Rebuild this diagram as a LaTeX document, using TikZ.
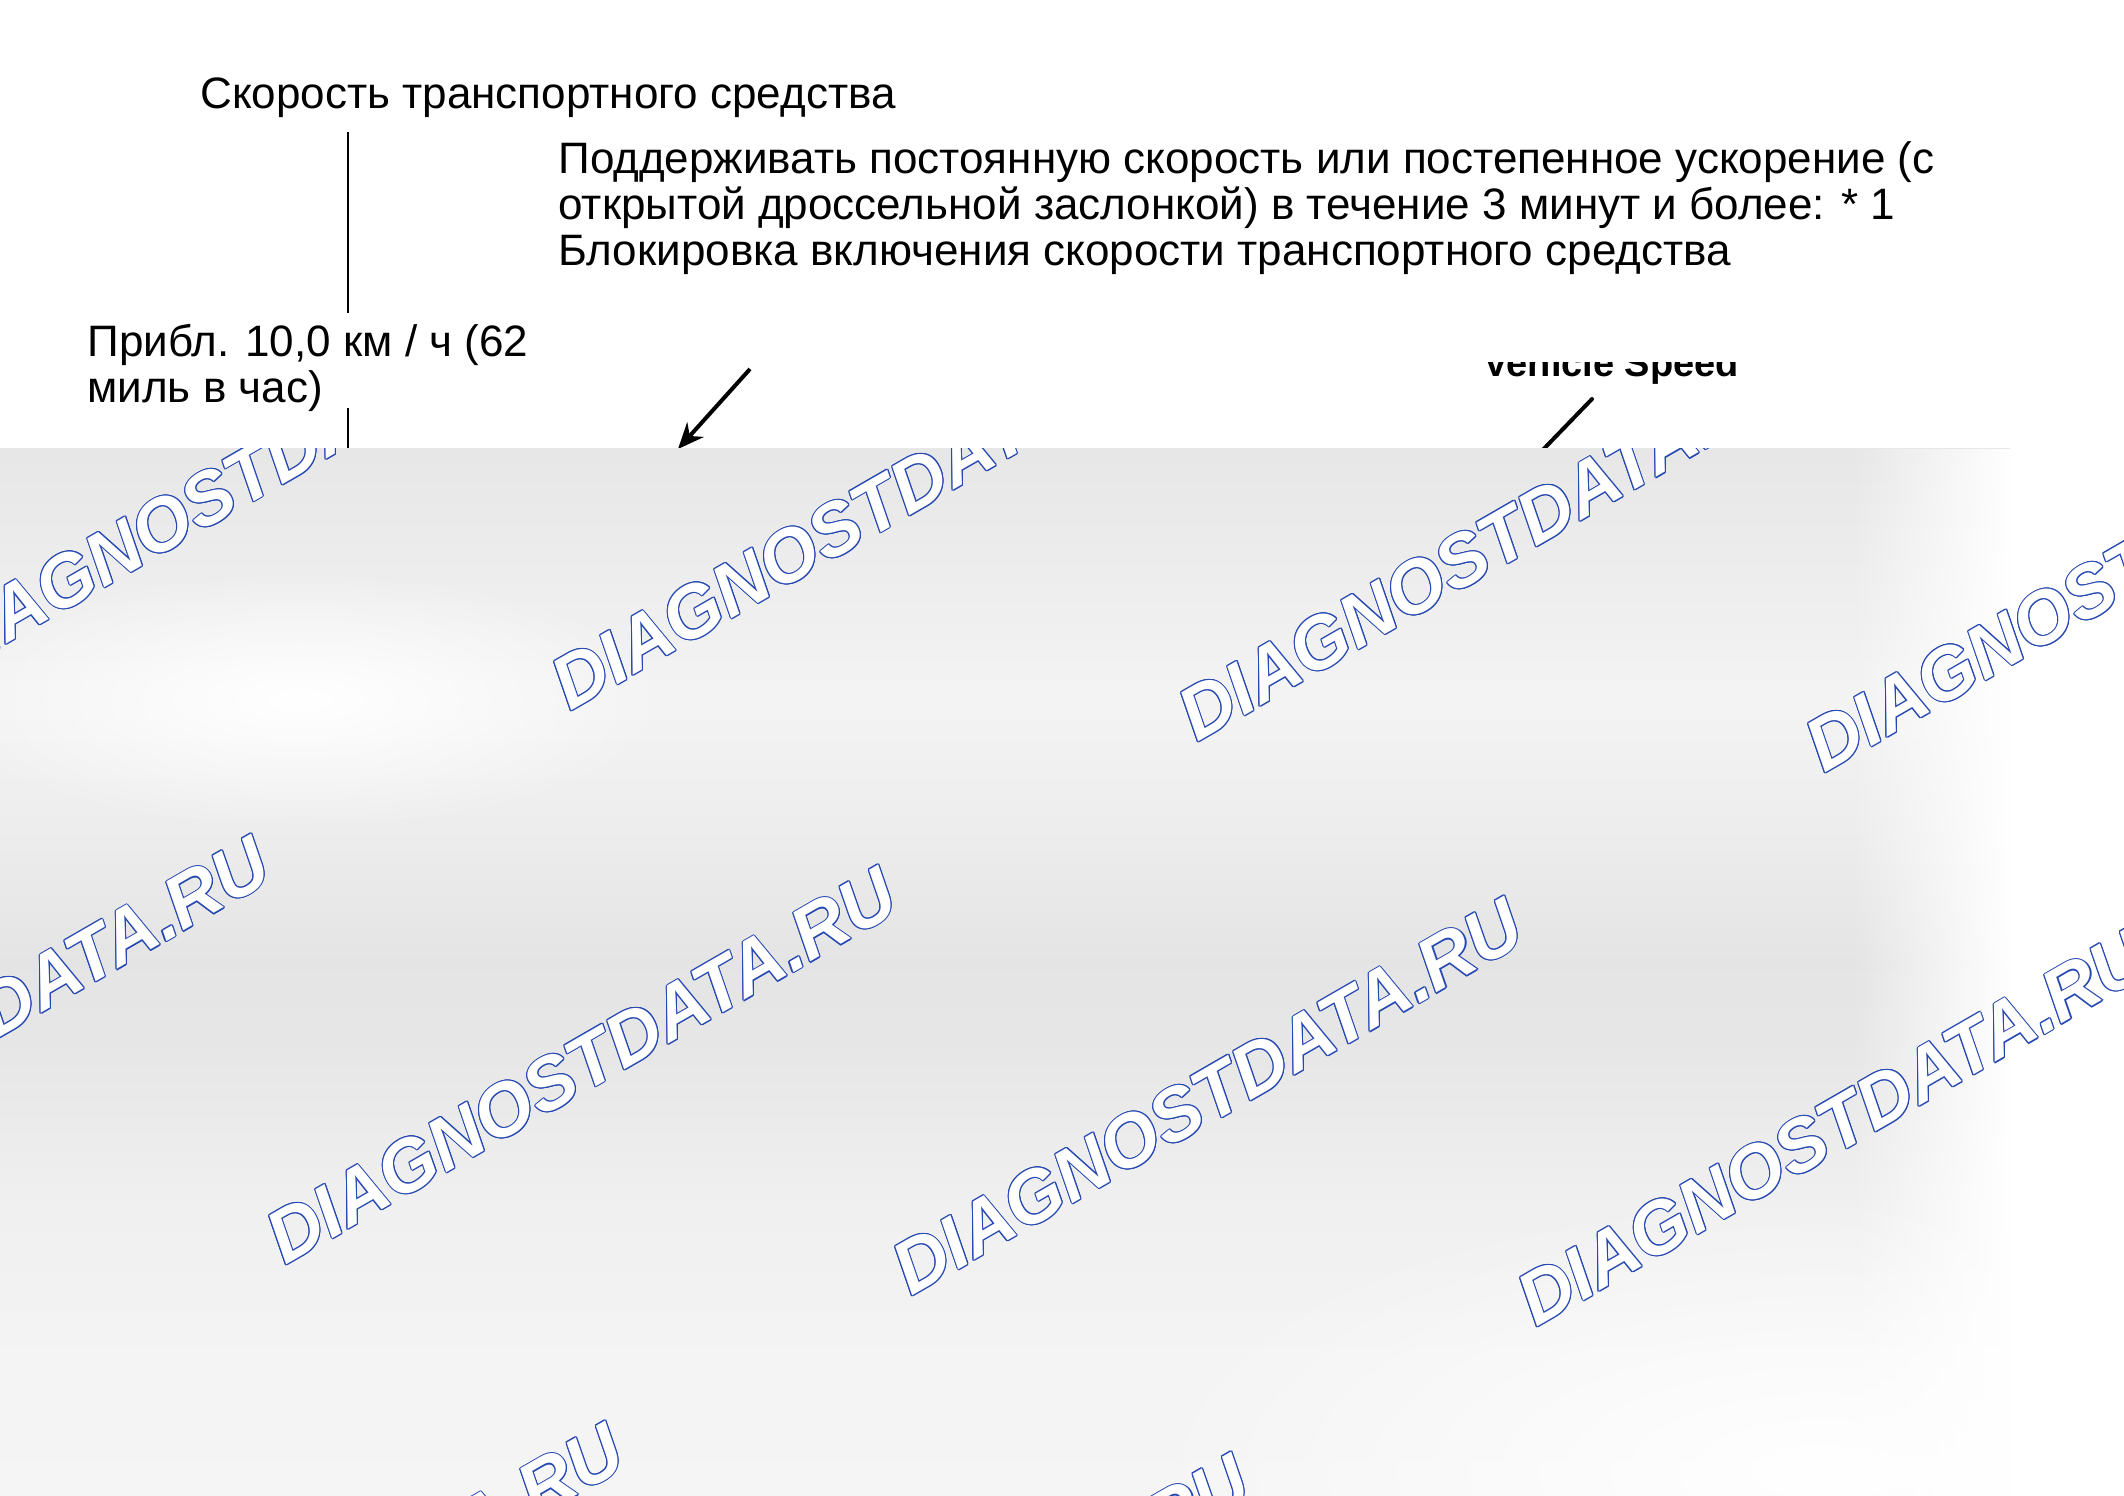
\documentclass[tikz,border=0pt]{standalone}
\usepackage{fontspec}
\setmainfont{Liberation Sans}
\usetikzlibrary{arrows.meta,fadings}

\definecolor{wmblue}{RGB}{38,72,178}

% background of the lower (photo) part
\pgfdeclareverticalshading{bgshade}{100bp}{color(0bp)=(black!4); color(25bp)=(black!4); color(32bp)=(black!4.5); color(39bp)=(black!6); color(46bp)=(black!9.5); color(50.5bp)=(black!10.5); color(57bp)=(black!7); color(63bp)=(black!4.5); color(70bp)=(black!7.5); color(75bp)=(black!9.5); color(100bp)=(black!9.5)}
\tikzfading[name=fade lr, left color=transparent!100, right color=transparent!0]
\tikzfading[name=blob, inner color=transparent!0, outer color=transparent!100]

\tikzset{
  lbl/.style={anchor=base west, inner sep=0pt, align=left, font=\fontsize{22}{23}\selectfont},
  wm/.style={anchor=base west, inner sep=0pt, rotate=30, font=\fontsize{37}{40}\selectfont\bfseries\itshape},
  lead/.style={line width=1.3pt},
}

% outlined watermark text
\newcommand\wmark[2]{%
  \foreach \a in {0,30,...,330}
    \node[wm, text=wmblue, shift={(\a:0.55pt)}] (#2o\a) at (#1) {DIAGNOSTDATA.RU};
  \node[wm, text=white] (#2) at (#1) {DIAGNOSTDATA.RU};
}

\begin{document}
\begin{tikzpicture}[x=0.5pt,y=-0.5pt]
  \useasboundingbox (0,0) rectangle (2124,1495);

  % Labels (base = last line)
  \node[lbl] (vspeed) at (200,108) {Скорость транспортного средства};
  \node[lbl] (hold) at (558,265) {Поддерживать постоянную скорость или постепенное ускорение (с\\
    открытой дроссельной заслонкой) в течение 3 минут и более: * 1\\
    Блокировка включения скорости транспортного средства};
  \node[lbl] (approx) at (87,402) {Прибл. 10,0 км / ч (62\\миль в час)};

  % Cut off label
  \begin{scope}
    \clip (1400,362) rectangle (1800,460);
    \node[anchor=base west, inner sep=0pt, font=\fontsize{19}{22}\selectfont\bfseries] (vslabel) at (1483,376) {Vehicle Speed};
  \end{scope}

  % Leaders
  \coordinate (vtop) at (348,132);
  \coordinate (vgap1) at (348,313);
  \coordinate (vgap2) at (348,408);
  \coordinate (vbot) at (348,460);
  \draw[lead] (vtop) -- (vgap1);
  \draw[lead] (vgap2) -- (vbot);

  \coordinate (arrtail) at (750,369);
  \coordinate (arrtip) at (678,449);
  \draw[line width=2pt, -{Stealth[length=13pt,width=11pt]}] (arrtail) -- (arrtip);

  \coordinate (vstail) at (1592,399);
  \coordinate (vsend) at (1533,460);
  \draw[line width=2pt, line cap=round] (vstail) -- (vsend);

  % Photo part with watermarks
  \shade[shading=bgshade] (0,448) rectangle (2010,1495);
  \fill[white, path fading=fade lr] (1850,448) rectangle (2012,1495);
  \fill[white, path fading=blob] (1820,1470) ellipse [x radius=700, y radius=280];
  \fill[white, path fading=blob] (300,700) ellipse [x radius=380, y radius=130];

  \begin{scope}
    \clip (0,448) rectangle (2124,1495);
    \wmark{-57,681}{wmAa}
    \wmark{570,712}{wmAb}
    \wmark{1197,743}{wmAc}
    \wmark{1824,774}{wmAd}
    \wmark{-342,1235}{wmBa}
    \wmark{285,1266}{wmBb}
    \wmark{911,1297}{wmBc}
    \wmark{1536,1328}{wmBd}
    \wmark{12,1822}{wmCa}
    \wmark{638,1853}{wmCb}
  \end{scope}
\end{tikzpicture}
\end{document}
